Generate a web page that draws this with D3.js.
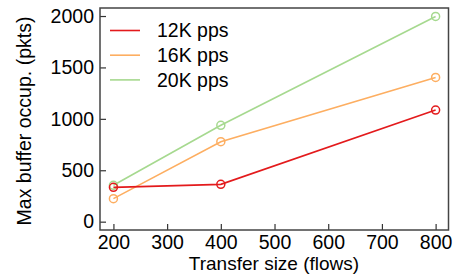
<!DOCTYPE html>
<html>
<head>
<meta charset="utf-8">
<script src="https://cdn.jsdelivr.net/npm/d3@7"></script>
<style>
  body { margin: 0; background: #fff; }
  svg { font-family: "Liberation Sans", Arial, sans-serif; }
</style>
</head>
<body>
<div id="chart"></div>
<script>
// data
const sizes = [200, 400, 800];
const series = ["12K pps", "16K pps", "20K pps"];
const pps12 = [334, 363, 1085];
const pps16 = [224, 778, 1403];
const pps20 = [354, 937, 1996];
const xTicks = [200, 300, 400, 500, 600, 700, 800];
const yTicks = [0, 500, 1000, 1500, 2000];
const colors = ["#e31a1c", "#fdae61", "#a6d98f"];

const width = 456, height = 274;
const margin = {top: 8, right: 7.5, bottom: 44, left: 100};
const fs = 19.5;

const svg = d3.select("#chart").append("svg")
    .attr("width", width)
    .attr("height", height);

const x = d3.scaleLinear()
    .domain([175, 824])
    .range([margin.left, width - margin.right]);
const y = d3.scaleLinear()
    .domain([-81, 2078])
    .range([height - margin.bottom, margin.top]);

// axes, ticks pointing inward
const xAxis = svg.append("g")
    .attr("transform", `translate(0,${height - margin.bottom})`)
    .call(d3.axisBottom(x).tickValues(xTicks).tickFormat(d3.format("d"))
        .tickSizeInner(-6).tickSizeOuter(0).tickPadding(5));
const yAxis = svg.append("g")
    .attr("transform", `translate(${margin.left},0)`)
    .call(d3.axisLeft(y).tickValues(yTicks).tickFormat(d3.format("d"))
        .tickSizeInner(-6).tickSizeOuter(0).tickPadding(6));

[xAxis, yAxis].forEach(g => {
    g.select(".domain").remove();
    g.selectAll(".tick line").attr("stroke", "#333").attr("stroke-width", 1.2);
    g.selectAll(".tick text").attr("font-size", fs).attr("fill", "#000");
});

// frame
svg.append("rect")
    .attr("x", margin.left)
    .attr("y", margin.top)
    .attr("width", width - margin.left - margin.right)
    .attr("height", height - margin.top - margin.bottom)
    .attr("fill", "none")
    .attr("stroke", "#444")
    .attr("stroke-width", 1.5);

const allSeries = [pps12, pps16, pps20];
const line = d3.line()
    .x((d, i) => x(sizes[i]))
    .y(d => y(d));

// draw green first so red is on top, like the reference
[2, 1, 0].forEach(k => {
    const vals = allSeries[k];
    svg.append("path")
        .datum(vals)
        .attr("d", line)
        .attr("fill", "none")
        .attr("stroke", colors[k])
        .attr("stroke-width", 1.6);
    svg.selectAll(".pt" + k)
        .data(vals)
        .enter()
        .append("circle")
        .attr("cx", (d, i) => x(sizes[i]))
        .attr("cy", d => y(d))
        .attr("r", 4)
        .attr("fill", "none")
        .attr("stroke", colors[k])
        .attr("stroke-width", 1.5);
});

// legend
const legend = svg.append("g");
series.forEach((name, i) => {
    const ly = 30.5 + i * 24.7;
    legend.append("line")
        .attr("x1", 110).attr("x2", 140)
        .attr("y1", ly).attr("y2", ly)
        .attr("stroke", colors[i])
        .attr("stroke-width", 1.6);
    legend.append("text")
        .attr("x", 157)
        .attr("y", ly)
        .attr("dy", "0.35em")
        .attr("font-size", fs)
        .text(name);
});

// axis titles
svg.append("text")
    .attr("x", 274)
    .attr("y", 270)
    .attr("text-anchor", "middle")
    .attr("font-size", 19)
    .text("Transfer size (flows)");
svg.append("text")
    .attr("transform", "translate(31,121) rotate(-90)")
    .attr("text-anchor", "middle")
    .attr("font-size", fs)
    .text("Max buffer occup. (pkts)");
</script>
</body>
</html>
